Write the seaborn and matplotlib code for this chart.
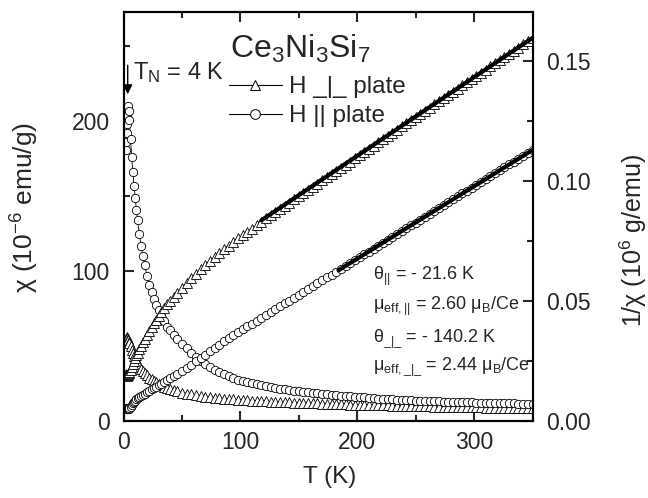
import matplotlib
matplotlib.use("Agg")
import matplotlib.pyplot as plt
import seaborn as sns
import pandas as pd
from matplotlib.lines import Line2D
from matplotlib.ticker import MultipleLocator
from matplotlib.mathtext import MathTextParser

# ---------------- data ----------------
T = [1.8, 2.2, 2.6, 3.0, 3.4, 3.8, 4.2, 4.6, 5.0, 6, 7, 8, 9, 10, 11, 12, 13.5, 15, 16.5, 18,
     20, 22, 24, 26, 28, 30, 32.5, 35, 37.5, 40, 43, 46, 50,
     54, 58, 62, 66, 70, 74, 78, 82, 86, 90,
     94, 98, 102, 106, 110, 114, 118, 122, 126, 130,
     134, 138, 142, 146, 150, 154, 158, 162, 166, 170,
     174, 178, 182, 186, 190, 194, 198, 202, 206, 210,
     214, 218, 222, 226, 230, 234, 238, 242, 246, 250,
     254, 258, 262, 266, 270, 274, 278, 282, 286, 290,
     294, 298, 302, 306, 310, 314, 318, 322, 326, 330,
     334, 338, 342, 346, 350]

chi_par = [181, 186, 192, 198, 204, 208, 210, 207, 201, 188, 176, 166, 157, 149, 141, 134, 125, 117, 110, 104,
           97, 91, 86, 81.5, 77.5, 74, 70, 66.5, 63, 60.5, 57.5, 54.5, 51.5,
           48.5, 45.5, 42.8, 40.3, 38.0, 36.0, 34.2, 32.6, 31.1, 29.8,
           28.6, 27.5, 26.6, 25.8, 25.1, 24.4, 23.8, 23.2, 22.6, 22.1,
           21.6, 21.1, 20.7, 20.3, 19.9, 19.5, 19.1, 18.8, 18.5, 18.2,
           17.9, 17.6, 17.3, 17.0, 16.7, 16.45, 16.2, 15.95, 15.7, 15.45,
           15.2, 15.0, 14.8, 14.6, 14.4, 14.25, 14.1, 13.95, 13.8, 13.65,
           13.5, 13.38, 13.26, 13.14, 13.02, 12.9, 12.8, 12.7, 12.6, 12.5,
           12.42, 12.34, 12.26, 12.18, 12.1, 12.03, 11.96, 11.89, 11.82, 11.76,
           11.7, 11.64, 11.58, 11.52, 11.46]

chi_perp = [54, 55, 55.5, 56, 55.5, 55, 54, 53, 52, 50, 47.5, 45.5, 43.5, 41.5, 40, 38.5, 36.5, 35, 33.5, 32,
            30.5, 29, 27.8, 26.7, 25.7, 24.8, 23.8, 22.9, 22.1, 21.3, 20.5, 19.8, 19.0,
            18.3, 17.7, 17.2, 16.7, 16.3, 15.9, 15.6, 15.3, 15.0, 14.7,
            14.4, 14.1, 13.9, 13.75, 13.6, 13.45, 13.3, 13.15, 13.0, 12.85,
            12.7, 12.55, 12.42, 12.3, 12.18, 12.06, 11.94, 11.82, 11.7, 11.6,
            11.5, 11.4, 11.3, 11.2, 11.1, 11.0, 10.9, 10.82, 10.74, 10.66,
            10.58, 10.5, 10.42, 10.34, 10.26, 10.18, 10.1, 10.03, 9.96, 9.89,
            9.82, 9.75, 9.68, 9.62, 9.56, 9.5, 9.44, 9.38, 9.32, 9.26,
            9.2, 9.15, 9.1, 9.05, 9.0, 8.95, 8.9, 8.85, 8.8, 8.76,
            8.72, 8.68, 8.64, 8.6, 8.56]

inv_perp = [0.0195, 0.0192, 0.0190, 0.0189, 0.0190, 0.0192, 0.0195, 0.0199, 0.0203, 0.0214, 0.0226, 0.0238,
            0.0250, 0.0262, 0.0273, 0.0284, 0.0299, 0.0314, 0.0328, 0.0342,
            0.0359, 0.0376, 0.0392, 0.0407, 0.0422, 0.0436, 0.0453, 0.0470, 0.0486, 0.0501, 0.0518, 0.0535, 0.0556,
            0.0576, 0.0595, 0.0614, 0.0632, 0.0650, 0.0667, 0.0684, 0.0700, 0.0716, 0.0731,
            0.0746, 0.0761, 0.0775, 0.0789, 0.0802, 0.0816, 0.0830, 0.0844, 0.0857, 0.0870,
            0.0884, 0.0897, 0.0910, 0.0923, 0.0936, 0.0950, 0.0963, 0.0976, 0.0989, 0.1002,
            0.1015, 0.1029, 0.1042, 0.1055, 0.1068, 0.1081, 0.1095, 0.1108, 0.1121, 0.1134,
            0.1147, 0.1161, 0.1174, 0.1187, 0.1200, 0.1213, 0.1227, 0.1240, 0.1253, 0.1266,
            0.1279, 0.1292, 0.1306, 0.1319, 0.1332, 0.1345, 0.1358, 0.1372, 0.1385, 0.1398,
            0.1411, 0.1424, 0.1438, 0.1451, 0.1464, 0.1477, 0.1490, 0.1504, 0.1517, 0.1530,
            0.1543, 0.1556, 0.1569, 0.1583, 0.1596]

inv_par = [0.0055, 0.0054, 0.0053, 0.0052, 0.0051, 0.0050, 0.0050, 0.0051, 0.0053, 0.0058, 0.0066, 0.0073,
           0.0079, 0.0085, 0.0090, 0.0094, 0.0099, 0.0104, 0.0109, 0.0114,
           0.0120, 0.0126, 0.0132, 0.0137, 0.0142, 0.0148, 0.0155, 0.0163, 0.0170, 0.0178, 0.0187, 0.0197, 0.0209,
           0.0222, 0.0235, 0.0248, 0.0262, 0.0276, 0.0290, 0.0304, 0.0318, 0.0332, 0.0345,
           0.0358, 0.0370, 0.0382, 0.0394, 0.0406, 0.0418, 0.0430, 0.0442, 0.0454, 0.0466,
           0.0478, 0.0490, 0.0502, 0.0514, 0.0526, 0.0538, 0.0550, 0.0562, 0.0574, 0.0586,
           0.0598, 0.0610, 0.0622, 0.0634, 0.0646, 0.0658, 0.0670, 0.0682, 0.0694, 0.0706,
           0.0718, 0.0731, 0.0743, 0.0755, 0.0767, 0.0779, 0.0791, 0.0803, 0.0815, 0.0827,
           0.0839, 0.0851, 0.0863, 0.0875, 0.0887, 0.0900, 0.0912, 0.0924, 0.0936, 0.0948,
           0.0960, 0.0972, 0.0984, 0.0996, 0.1008, 0.1020, 0.1032, 0.1044, 0.1057, 0.1069,
           0.1081, 0.1093, 0.1105, 0.1117, 0.1129]

fit_perp_T = [118, 350]
fit_perp_inv = [0.0836, 0.1596]
fit_par_T = [184, 350]
fit_par_inv = [0.0628, 0.1129]

x_ticks = [0, 100, 200, 300]
y_left_ticks = [0, 100, 200]
y_right_ticks = [0.00, 0.05, 0.10, 0.15]
y_right_labels = ["0.00", "0.05", "0.10", "0.15"]

# ---------------- styling ----------------
sns.set_theme(style="ticks")
plt.rcParams["font.family"] = ["Liberation Sans", "DejaVu Sans"]
plt.rcParams["mathtext.fontset"] = "custom"
plt.rcParams["mathtext.rm"] = "Liberation Sans"
plt.rcParams["mathtext.it"] = "Liberation Sans:italic"
plt.rcParams["mathtext.bf"] = "Liberation Sans:bold"
plt.rcParams["axes.linewidth"] = 1.5

TICK_FS = 16.5

def mt_ok(s):
    try:
        MathTextParser("path").parse(s)
        return True
    except Exception:
        return False

perp_sub = r"$_{\_|\_}$" if mt_ok(r"$_{\_|\_}$") else r"$_{\perp}$"
perp_sub2 = r"$_{\mathrm{eff,}\_|\_}$" if mt_ok(r"$_{\mathrm{eff,}\_|\_}$") else r"$_{\mathrm{eff},\perp}$"

df = pd.DataFrame({"T": T, "chi_par": chi_par, "chi_perp": chi_perp,
                   "inv_par": inv_par, "inv_perp": inv_perp})

W, H = 648, 498
fig = plt.figure(figsize=(W / 100, H / 100), dpi=100)
ax = fig.add_axes([123.5 / W, 1 - 421 / H, 409 / W, 409 / H])
ax2 = ax.twinx()

mk = dict(color="black", lw=0.6, markerfacecolor="white",
          markeredgecolor="black", markeredgewidth=0.6, estimator=None, legend=False)

sns.lineplot(data=df, x="T", y="chi_perp", ax=ax, marker="^", markersize=6.5, **mk)
sns.lineplot(data=df, x="T", y="chi_par", ax=ax, marker="o", markersize=6, **mk)
sns.lineplot(data=df, x="T", y="inv_perp", ax=ax2, marker="^", markersize=6.5, **mk)
sns.lineplot(data=df, x="T", y="inv_par", ax=ax2, marker="o", markersize=6, **mk)
sns.lineplot(x=fit_perp_T, y=fit_perp_inv, ax=ax2, color="black", lw=3, legend=False)
sns.lineplot(x=fit_par_T, y=fit_par_inv, ax=ax2, color="black", lw=3, legend=False)

ax.set_xlim(0, 350)
ax.set_ylim(0, 272.7)
ax2.set_ylim(0, 0.1704)

ax.set_xticks(x_ticks)
ax.xaxis.set_minor_locator(MultipleLocator(50))
ax.set_yticks(y_left_ticks)
ax.yaxis.set_minor_locator(MultipleLocator(50))
ax2.set_yticks(y_right_ticks)
ax2.set_yticklabels(y_right_labels)
ax2.yaxis.set_minor_locator(MultipleLocator(0.025))

ax.tick_params(axis="x", which="both", direction="in", top=True, bottom=True,
               labelsize=TICK_FS, width=1.5, pad=7)
ax.tick_params(axis="x", which="major", length=7.5)
ax.tick_params(axis="x", which="minor", length=4.5)
ax.tick_params(axis="y", which="both", direction="in", left=True, right=False,
               labelsize=TICK_FS, width=1.5, pad=10)
ax.tick_params(axis="y", which="major", length=7.5)
ax.tick_params(axis="y", which="minor", length=4.5)
ax2.tick_params(axis="y", which="both", direction="in", right=True, left=False,
                labelsize=TICK_FS, width=1.5, pad=10)
ax2.tick_params(axis="y", which="major", length=7.5)
ax2.tick_params(axis="y", which="minor", length=4.5)
ax.set_xlabel("")
ax.set_ylabel("")
ax2.set_ylabel("")

for a in (ax, ax2):
    for s in a.spines.values():
        s.set_linewidth(1.5)
        s.set_color("black")

# axis labels placed at measured pixel centres
fig.text(330 / W, 1 - 477 / H, "T (K)", fontsize=17.5, ha="center", va="center")
fig.text(25 / W, 1 - 207 / H, r"χ (10$^{-6}$ emu/g)", fontsize=19, rotation=90,
         ha="center", va="center", rotation_mode="anchor")
fig.text(633 / W, 1 - 240 / H, r"1/χ (10$^{6}$ g/emu)", fontsize=18, rotation=90,
         ha="center", va="center", rotation_mode="anchor")

# compound label
ax.text(0.2595, 0.8875, r"Ce$_{3}$Ni$_{3}$Si$_{7}$", transform=ax.transAxes,
        fontsize=23, ha="left", va="baseline")

# T_N annotation
ax.text(0.023, 0.837, r"T$_{\mathrm{N}}$ = 4 K", transform=ax.transAxes,
        fontsize=17, ha="left", va="baseline")
ax.annotate("", xy=(3.6, 216), xytext=(3.6, 239),
            arrowprops=dict(arrowstyle="-|>", color="black", lw=1.0, mutation_scale=14))

# legend
handles = [Line2D([], [], color="black", lw=0.8, marker="^", markersize=7,
                  markerfacecolor="white", markeredgecolor="black", markeredgewidth=0.7),
           Line2D([], [], color="black", lw=0.8, marker="o", markersize=7,
                  markerfacecolor="white", markeredgecolor="black", markeredgewidth=0.7)]
ax.legend(handles, ["H _|_ plate", "H || plate"], loc="upper left",
          bbox_to_anchor=(0.257, 0.843), frameon=False, fontsize=17.5,
          handlelength=2.2, handletextpad=0.3, borderpad=0, borderaxespad=0,
          labelspacing=0.28)

# fit results
fs_ann = 13
ax.text(0.61, 0.345, r"θ$_{||}$ = - 21.6 K", transform=ax.transAxes,
        fontsize=fs_ann, ha="left", va="baseline")
ax.text(0.61, 0.271, r"μ$_{\mathrm{eff,||}}$ = 2.60 μ$_{\mathrm{B}}$/Ce", transform=ax.transAxes,
        fontsize=fs_ann, ha="left", va="baseline")
ax.text(0.61, 0.194, "θ" + perp_sub + " = - 140.2 K", transform=ax.transAxes,
        fontsize=fs_ann, ha="left", va="baseline")
ax.text(0.61, 0.125, "μ" + perp_sub2 + r" = 2.44 μ$_{\mathrm{B}}$/Ce", transform=ax.transAxes,
        fontsize=fs_ann, ha="left", va="baseline")

fig.savefig("out.png", dpi=100)
